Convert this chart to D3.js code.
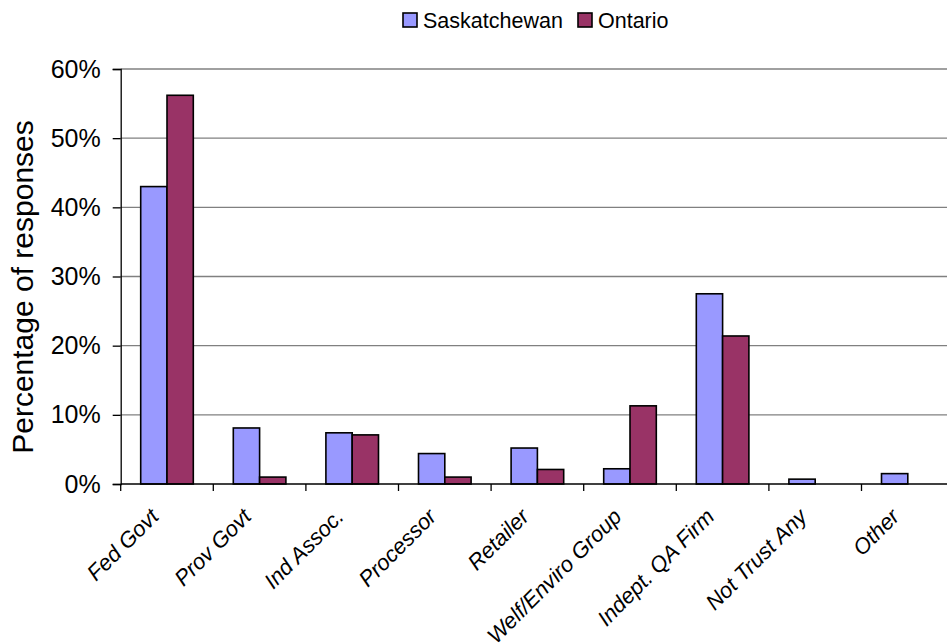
<!DOCTYPE html>
<html>
<head>
<meta charset="utf-8">
<script src="https://cdn.jsdelivr.net/npm/d3@7/dist/d3.min.js"></script>
<style>
  html, body { margin: 0; padding: 0; background: #fff; }
  svg { display: block; font-family: "Liberation Sans", Arial, sans-serif; }
</style>
</head>
<body>
<svg id="chart" width="947" height="643"></svg>
<script>
// Trusted source for quality assurance, share of responses by province
const categories = ["Fed Govt", "Prov Govt", "Ind Assoc.", "Processor", "Retailer",
                    "Welf/Enviro Group", "Indept. QA Firm", "Not Trust Any", "Other"];
const seriesNames = ["Saskatchewan", "Ontario"];
const saskatchewan = [0.430, 0.081, 0.074, 0.044, 0.052, 0.022, 0.275, 0.007, 0.015];
const ontario      = [0.562, 0.010, 0.071, 0.010, 0.021, 0.113, 0.214, 0.000, 0.000];
const yTicks = [0, 0.1, 0.2, 0.3, 0.4, 0.5, 0.6];
const colors = ["#9999FF", "#993366"];

const svg = d3.select("#chart");
const plotLeft = 120.7, plotTop = 69, plotBottom = 484;
const bandW = 92.6;
const plotRight = plotLeft + bandW * categories.length;

const x0 = d3.scaleBand().domain(categories).range([plotLeft, plotRight]).padding(0);
const x1 = d3.scaleBand().domain(seriesNames)
  .range([x0.bandwidth() * 0.216, x0.bandwidth() * 0.784]).padding(0);
const y = d3.scaleLinear().domain([0, 0.6]).range([plotBottom, plotTop]);
const color = d3.scaleOrdinal().domain(seriesNames).range(colors);

// horizontal gridlines
svg.append("g")
  .selectAll("line")
  .data(yTicks.filter(d => d > 0))
  .join("line")
  .attr("x1", plotLeft).attr("x2", 947)
  .attr("y1", d => y(d)).attr("y2", d => y(d))
  .attr("stroke", "#808080").attr("stroke-width", 1.3);

// y axis
const yAxis = svg.append("g")
  .attr("transform", `translate(${plotLeft},0)`)
  .call(d3.axisLeft(y).tickValues(yTicks).tickFormat(d3.format(".0%"))
    .tickSize(8).tickPadding(12));
yAxis.select(".domain").attr("stroke", "#000").attr("stroke-width", 1.3);
yAxis.selectAll(".tick line").attr("stroke", "#000").attr("stroke-width", 1.3);
yAxis.selectAll(".tick text")
  .attr("font-size", 25).attr("fill", "#000")
  .attr("font-family", "'Liberation Sans', Arial, sans-serif");

// y axis title
svg.append("text")
  .attr("transform", "translate(33,287) rotate(-90)")
  .attr("text-anchor", "middle")
  .attr("font-size", 30)
  .text("Percentage of responses");

// bars
const rows = categories.map((c, i) => ({
  cat: c,
  vals: [saskatchewan[i], ontario[i]]
}));
const groups = svg.append("g")
  .selectAll("g")
  .data(rows)
  .join("g")
  .attr("transform", d => `translate(${x0(d.cat)},0)`);
groups.selectAll("rect")
  .data(d => d.vals.map((v, j) => ({ key: seriesNames[j], v })).filter(e => e.v > 0))
  .join("rect")
  .attr("x", d => x1(d.key))
  .attr("width", x1.bandwidth())
  .attr("y", d => y(d.v))
  .attr("height", d => y(0) - y(d.v))
  .attr("fill", d => color(d.key))
  .attr("stroke", "#000")
  .attr("stroke-width", 1.6);

// x axis baseline and category ticks
svg.append("line")
  .attr("x1", plotLeft).attr("x2", 947)
  .attr("y1", plotBottom).attr("y2", plotBottom)
  .attr("stroke", "#000").attr("stroke-width", 1.3);
svg.append("g")
  .selectAll("line")
  .data(categories)
  .join("line")
  .attr("x1", d => x0(d)).attr("x2", d => x0(d))
  .attr("y1", plotBottom).attr("y2", plotBottom + 7)
  .attr("stroke", "#000").attr("stroke-width", 1.3);

// rotated category labels
svg.append("g")
  .selectAll("text")
  .data(categories)
  .join("text")
  .attr("transform", d => `translate(${x0(d) + x0.bandwidth() / 2 - 7},518) rotate(-45)`)
  .attr("text-anchor", "end")
  .attr("font-size", 22)
  .attr("font-style", "italic")
  .text(d => d);

// legend
const legend = svg.append("g");
const legendX = [403, 578];
seriesNames.forEach((s, i) => {
  legend.append("rect")
    .attr("x", legendX[i]).attr("y", 13)
    .attr("width", 14).attr("height", 14)
    .attr("fill", color(s)).attr("stroke", "#000").attr("stroke-width", 1.6);
  legend.append("text")
    .attr("x", legendX[i] + 20).attr("y", 28)
    .attr("font-size", 21.5)
    .text(s);
});
</script>
</body>
</html>
